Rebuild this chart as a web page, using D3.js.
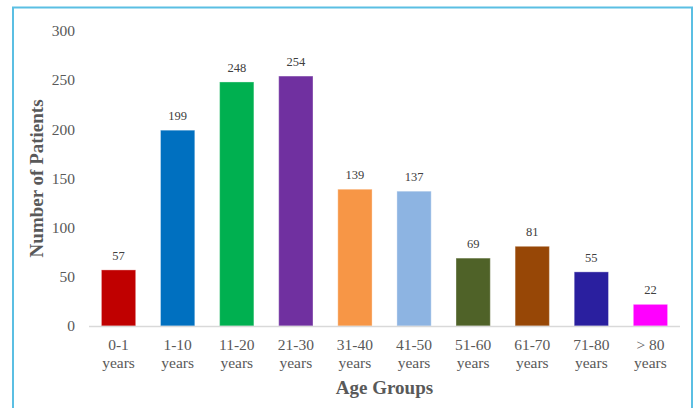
<!DOCTYPE html>
<html>
<head>
<meta charset="utf-8">
<script src="https://cdn.jsdelivr.net/npm/d3@7"></script>
<style>
  html, body { margin: 0; padding: 0; background: #fff; }
  svg { display: block; }
</style>
</head>
<body>
<svg id="chart" width="696" height="408"></svg>
<script>
const categories = [["0-1","years"],["1-10","years"],["11-20","years"],["21-30","years"],["31-40","years"],["41-50","years"],["51-60","years"],["61-70","years"],["71-80","years"],["> 80","years"]];
const values = [57, 199, 248, 254, 139, 137, 69, 81, 55, 22];
const colors = ["#C00000","#0070C0","#00B050","#7030A0","#F79646","#8DB4E2","#4F6228","#974706","#2A1F9F","#FF00FF"];
const yTicks = [0, 50, 100, 150, 200, 250, 300];
const xTitle = "Age Groups";
const yTitle = "Number of Patients";

(function () {
const svg = d3.select("#chart");
const font = "'Liberation Serif', 'Times New Roman', serif";

// frame
svg.append("rect")
  .attr("x", 13).attr("y", 7.5).attr("width", 679).attr("height", 420)
  .attr("fill", "none").attr("stroke", "#5bbfe3").attr("stroke-width", 2);

const pLeft = 89, pRight = 680, pTop = 30.8, pBottom = 326;
const x = d3.scaleBand().domain(d3.range(values.length)).range([pLeft, pRight]).paddingInner(0.42).paddingOuter(0.21);
const y = d3.scaleLinear().domain([0, 300]).range([pBottom, pTop]);

// y axis labels
const yAxis = d3.axisLeft(y).tickValues(yTicks).tickSize(0).tickPadding(0);
const gy = svg.append("g").attr("transform", `translate(75,0)`).call(yAxis);
gy.select(".domain").remove();
gy.selectAll("text").attr("font-family", font).attr("font-size", 15.5).attr("fill", "#595959");

// bars
svg.selectAll("rect.bar").data(values).join("rect")
  .attr("class", "bar")
  .attr("x", (d, i) => x(i))
  .attr("width", x.bandwidth())
  .attr("y", d => y(d))
  .attr("height", d => pBottom - y(d))
  .attr("fill", (d, i) => colors[i])
  .attr("stroke", "rgba(255,255,255,0.35)")
  .attr("stroke-width", 1);

// baseline
svg.append("line").attr("x1", pLeft).attr("x2", pRight).attr("y1", pBottom + 0.5).attr("y2", pBottom + 0.5)
  .attr("stroke", "#d9d9d9").attr("stroke-width", 1.5);

// value labels
svg.selectAll("text.val").data(values).join("text")
  .attr("class", "val")
  .attr("x", (d, i) => x(i) + x.bandwidth() / 2)
  .attr("y", d => y(d) - 10)
  .attr("text-anchor", "middle")
  .attr("font-family", font).attr("font-size", 12.5).attr("fill", "#404040")
  .text(d => d);

// x tick labels
const xl = svg.selectAll("text.xl").data(categories).join("text")
  .attr("class", "xl")
  .attr("text-anchor", "middle")
  .attr("font-family", font).attr("font-size", 15.5).attr("fill", "#595959");
xl.append("tspan").attr("x", (d, i) => x(i) + x.bandwidth() / 2).attr("y", 350).text(d => d[0]);
xl.append("tspan").attr("x", (d, i) => x(i) + x.bandwidth() / 2).attr("y", 368).text(d => d[1]);

// axis titles
svg.append("text").attr("x", (pLeft + pRight) / 2).attr("y", 394)
  .attr("text-anchor", "middle").attr("font-family", font).attr("font-weight", "bold")
  .attr("font-size", 19).attr("fill", "#595959").text(xTitle);
svg.append("text").attr("transform", `translate(43,${(pTop + pBottom) / 2}) rotate(-90)`)
  .attr("text-anchor", "middle").attr("font-family", font).attr("font-weight", "bold")
  .attr("font-size", 19).attr("fill", "#595959").text(yTitle);
})();
</script>
</body>
</html>
